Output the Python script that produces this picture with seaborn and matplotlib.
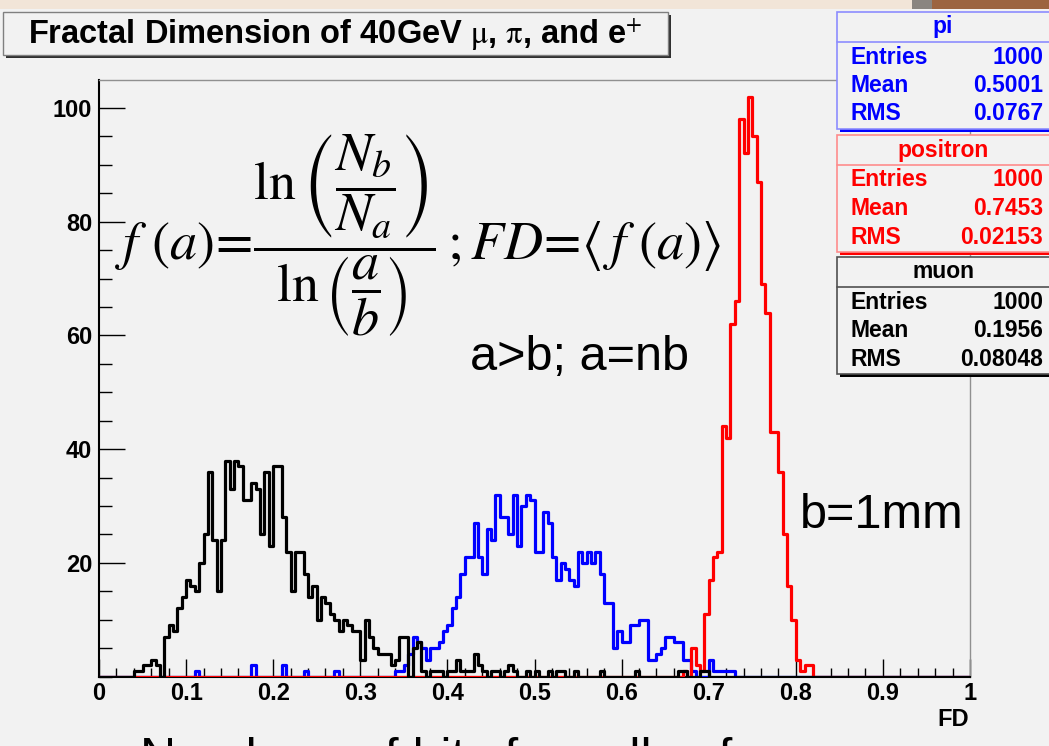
import numpy as np
import pandas as pd
import matplotlib
matplotlib.use('Agg')
import matplotlib.pyplot as plt
from matplotlib.patches import Rectangle
from matplotlib.lines import Line2D
import seaborn as sns

# histograms: 200 bins of width 0.005 on FD in [0, 1], counts
n_bins = 200
bin_width = 0.005

muon_first_bin = 8
muon_counts = [1, 1, 2, 2, 3, 2, 0,
               7, 9, 8, 12, 14, 17, 16, 15, 20, 25,
               36, 24, 15, 24, 38, 33, 38, 37, 31, 31,
               34, 33, 25, 36, 23, 37, 37, 28, 22, 15,
               22, 22, 18, 14, 16, 10, 14, 13, 11, 10,
               8, 10, 9, 8, 8, 3, 10, 7, 5, 4,
               4, 4, 2, 3, 7, 7, 0, 5, 6, 1,
               0, 1, 1, 1, 0, 1, 1, 3, 1, 1,
               1, 4, 2, 1, 0, 1, 1, 0, 1, 2,
               1, 0, 0, 1, 0, 1, 0, 0, 1, 0,
               1, 1, 0, 0, 1, 0, 0, 0, 0, 0,
               1, 0, 0, 0, 0, 0, 0, 0, 1, 0,
               0, 0, 0, 0, 0, 0, 0, 0, 1, 1,
               0, 0, 0, 1, 1]

pi_first_bin = 20
pi_counts = [0, 0, 1, 0, 0, 0, 0, 0, 0, 0,
             0, 0, 0, 0, 0, 2, 0, 0, 0, 0,
             0, 0, 2, 0, 0, 0, 0, 1, 0, 0,
             0, 0, 0, 0, 1, 0, 0, 0, 0, 0,
             0, 0, 0, 0, 0, 0, 0, 0, 1, 1,
             2, 4, 7, 6, 5, 3, 5, 5, 6, 8,
             9, 12, 14, 18, 21, 21, 27, 21, 18, 26,
             24, 32, 28, 28, 25, 32, 23, 30, 32, 31,
             22, 22, 29, 27, 21, 17, 20, 19, 17, 16,
             22, 20, 22, 20, 22, 18, 13, 13, 5, 8,
             6, 6, 9, 9, 10, 10, 3, 3, 4, 5,
             7, 7, 6, 6, 3, 3, 1, 0, 0, 0,
             3, 1, 1, 1, 1, 1]

positron_first_bin = 134
positron_counts = [1, 0, 5, 2, 1, 11, 17, 21, 22, 44,
                   42, 62, 66, 98, 92, 102, 95, 87, 69, 64,
                   43, 43, 36, 25, 16, 10, 3, 1, 2, 2]

particles = ['pi', 'positron', 'muon']
line_colors = ['#0000ff', '#ff0000', '#000000']
box_colors = ['#8c8cff', '#ff8c8c', '#505050']
stat_entries = ['1000', '1000', '1000']
stat_means = ['0.5001', '0.7453', '0.1956']
stat_rms = ['0.0767', '0.02153', '0.08048']

x_ticks = [0, 0.1, 0.2, 0.3, 0.4, 0.5, 0.6, 0.7, 0.8, 0.9, 1]
x_tick_labels = ['0', '0.1', '0.2', '0.3', '0.4', '0.5', '0.6', '0.7', '0.8', '0.9', '1']
y_ticks = [20, 40, 60, 80, 100]


def full_counts(first, counts):
    h = np.zeros(n_bins)
    h[first:first + len(counts)] = counts
    return h


edges = np.linspace(0, 1, n_bins + 1)
centers = edges[:-1] + bin_width / 2
df = pd.DataFrame({
    'FD': np.tile(centers, 3),
    'count': np.concatenate([full_counts(pi_first_bin, pi_counts),
                             full_counts(positron_first_bin, positron_counts),
                             full_counts(muon_first_bin, muon_counts)]),
    'particle': np.repeat(particles, n_bins),
})

sns.set_style('ticks')
plt.rcParams['font.family'] = ['Liberation Sans', 'DejaVu Sans']
plt.rcParams['text.color'] = 'black'
plt.rcParams['xtick.color'] = 'black'
plt.rcParams['ytick.color'] = 'black'
bg = '#f2f2f2'

W, H = 1049, 746
fig = plt.figure(figsize=(W / 100, H / 100), dpi=100, facecolor=bg)
ax = fig.add_axes([99 / W, 1 - 676.6 / H, (970 - 99) / W, (676.6 - 80) / H])
ax.set_facecolor(bg)

for z, (name, col) in enumerate(zip(particles, line_colors)):
    sns.histplot(data=df[df['particle'] == name], x='FD', weights='count',
                 binwidth=bin_width, binrange=(0, 1), element='step', fill=False,
                 color=col, linewidth=2.3, ax=ax, zorder=3 + z)

ax.set_xlim(0, 1)
ax.set_ylim(0, (676.6 - 80) / 5.686)
ax.set_xlabel('')
ax.set_ylabel('')
ax.set_xticks(x_ticks)
ax.set_xticklabels(x_tick_labels)
ax.set_xticks(np.arange(0, 1.0001, 0.02), minor=True)
ax.set_yticks(y_ticks)
ax.set_yticks(np.arange(0, 105, 5), minor=True)
ax.tick_params(which='both', direction='in', top=False, right=False,
               labelsize=17, color='black', labelcolor='black', width=1)
ax.tick_params(axis='y', which='major', length=18.7, pad=5)
ax.tick_params(axis='y', which='minor', length=9.4)
ax.tick_params(axis='x', which='major', length=13, pad=4)
ax.tick_params(axis='x', which='minor', length=6.5)
for lab in ax.get_xticklabels() + ax.get_yticklabels():
    lab.set_fontweight('bold')
for s in ['left', 'bottom']:
    ax.spines[s].set_color('black')
    ax.spines[s].set_linewidth(1.5)
for s in ['top', 'right']:
    ax.spines[s].set_color('#909090')
    ax.spines[s].set_linewidth(1)


def fig_rect(x0, y0, x1, y1, **kw):
    fig.add_artist(Rectangle((x0 / W, 1 - y1 / H), (x1 - x0) / W, (y1 - y0) / H,
                             transform=fig.transFigure, **kw))


def fig_line(x0, x1, y, **kw):
    fig.add_artist(Line2D([x0 / W, x1 / W], [1 - y / H, 1 - y / H],
                          transform=fig.transFigure, **kw))


def fig_text(x, y, s, **kw):
    fig.text(x / W, 1 - y / H, s, **kw)


# slide strip at the very top
fig_rect(0, 0, 912, 9, facecolor='#f2e5d8', edgecolor='none')
fig_rect(912, 0, 932, 9, facecolor='#8a8580', edgecolor='none')
fig_rect(932, 0, W, 9, facecolor='#9c6440', edgecolor='none')

# title box with shadow
fig_rect(6, 15, 671, 58, facecolor='#303030', edgecolor='none')
fig_rect(3, 12, 668, 55, facecolor=bg, edgecolor='#808080', linewidth=1)
fig_text(28, 35, r'Fractal Dimension of 40GeV $\mathrm{\mu}$, $\mathrm{\pi}$, and e$^{+}$',
         fontsize=23.5, fontweight='bold', va='center', ha='left',
         math_fontfamily='stix')

# stat boxes
for k, name in enumerate(particles):
    top = [12, 135, 257][k]
    bot = top + 117
    tc = line_colors[k]
    fig_rect(840, top + 3, W + 10, bot + 3, facecolor=tc, edgecolor='none')
    fig_rect(837, top, W + 10, bot, facecolor=bg, edgecolor=box_colors[k], linewidth=1.2)
    fig_line(837, W, top + 30, color=box_colors[k], linewidth=1.2)
    fig_text(943, top + 15, name, color=tc, fontsize=16.5, fontweight='bold',
             ha='center', va='center')
    for j, (lab, val) in enumerate(zip(['Entries', 'Mean', 'RMS'],
                                       [stat_entries[k], stat_means[k], stat_rms[k]])):
        yy = top + 45 + j * 28.5
        fig_text(850, yy, lab, color=tc, fontsize=16.5, fontweight='bold', va='center')
        fig_text(1043, yy, val, color=tc, fontsize=16.5, fontweight='bold',
                 va='center', ha='right')

# formula and annotations
fig_text(418, 236,
         r'$f\ (a)\!=\!\dfrac{\ln\left(\dfrac{N_b}{N_a}\right)}{\ln\left(\dfrac{a}{b}\right)}\,;FD\!=\!\langle\, f\ (a)\rangle$',
         fontsize=39, ha='center', va='center', math_fontfamily='stix')
fig_text(470, 357, 'a>b; a=nb', fontsize=35, va='center', ha='left')
fig_text(800, 515, 'b=1mm', fontsize=35, va='center', ha='left')
fig_text(969, 720, 'FD', fontsize=17, fontweight='bold', ha='right', va='center')
fig_text(140, 737, 'Numbers of hits for cells of', fontsize=36, ha='left', va='top')

fig.savefig('out.png', dpi=100, facecolor=bg)
